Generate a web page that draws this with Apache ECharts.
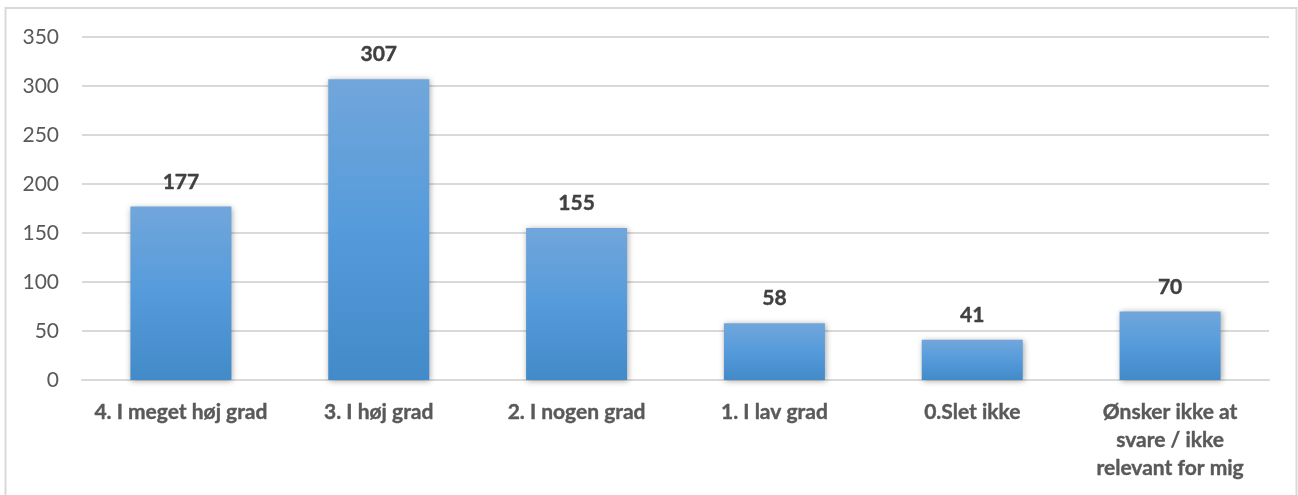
<!DOCTYPE html>
<html>
<head>
<meta charset="utf-8">
<script src="https://cdn.jsdelivr.net/npm/echarts@6/dist/echarts.min.js"></script>
<style>
  html, body { margin: 0; padding: 0; background: #ffffff; }
  #chart { width: 1298px; height: 495px; }
</style>
</head>
<body>
<div id="chart"></div>
<script>
// Answer categories (x axis)
const categories = [
  '4. I meget høj grad',
  '3. I høj grad',
  '2. I nogen grad',
  '1. I lav grad',
  '0.Slet ikke',
  'Ønsker ikke at\nsvare / ikke\nrelevant for mig'
];
// Number of responses per category
const counts = [177, 307, 155, 58, 41, 70];
// Value axis ticks
const yTicks = [0, 50, 100, 150, 200, 250, 300, 350];

const FONT = 'Lato, "Open Sans", sans-serif';

const chart = echarts.init(document.getElementById('chart'), null, { renderer: 'canvas' });

chart.setOption({
  backgroundColor: '#ffffff',
  animation: false,
  graphic: [{
    type: 'rect',
    silent: true,
    shape: { x: 5.5, y: 8, width: 1291, height: 500 },
    style: { fill: 'none', stroke: '#d9d9d9', lineWidth: 2 }
  }],
  grid: { left: 82, right: 29, top: 37, bottom: 115, containLabel: false },
  xAxis: {
    type: 'category',
    data: categories,
    axisTick: { show: false },
    axisLine: { show: true, lineStyle: { color: '#d9d9d9', width: 2 } },
    axisLabel: {
      interval: 0,
      margin: 18,
      color: '#595959',
      fontFamily: FONT,
      fontWeight: 'bold',
      fontSize: 21,
      lineHeight: 28,
      align: 'center',
      textBorderColor: '#595959',
      textBorderWidth: 0.4
    }
  },
  yAxis: {
    type: 'value',
    min: yTicks[0],
    max: yTicks[yTicks.length - 1],
    interval: 50,
    axisLine: { show: false },
    axisTick: { show: false },
    splitLine: { lineStyle: { color: '#d9d9d9', width: 2 } },
    axisLabel: {
      margin: 23,
      color: '#595959',
      fontFamily: FONT,
      fontSize: 21
    }
  },
  series: [{
    type: 'bar',
    data: counts,
    barWidth: 101,
    itemStyle: {
      color: new echarts.graphic.LinearGradient(0, 0, 0, 1, [
        { offset: 0, color: '#71a6db' },
        { offset: 0.5, color: '#559bdb' },
        { offset: 1, color: '#438ac9' }
      ]),
      shadowColor: 'rgba(0,0,0,0.35)',
      shadowBlur: 6,
      shadowOffsetX: 1,
      shadowOffsetY: 1
    },
    label: {
      show: true,
      position: 'top',
      distance: 14,
      color: '#404040',
      fontFamily: FONT,
      fontWeight: 'bold',
      fontSize: 21,
      textBorderColor: '#404040',
      textBorderWidth: 0.4
    }
  }]
});
</script>
</body>
</html>
